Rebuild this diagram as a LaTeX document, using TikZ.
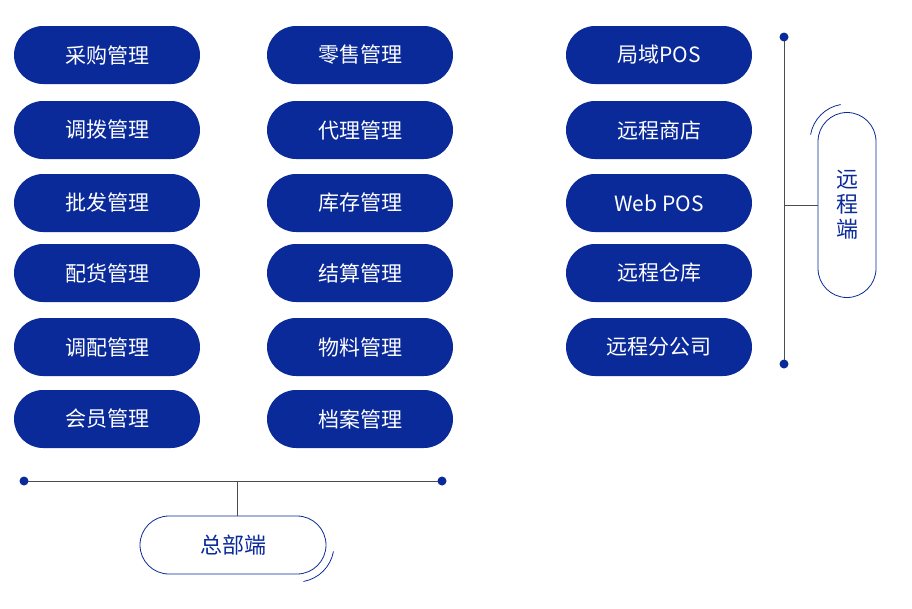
\documentclass[tikz,border=0pt]{standalone}
\usepackage{fontspec}
\setmainfont{Noto Sans CJK SC}
\definecolor{navy}{HTML}{0A2A9A}

\begin{document}
\begin{tikzpicture}[
    x = 1pt, y = -1pt,
    %
    module/.style = {fill = navy, text = white,
      rounded corners = 29pt,
      minimum width = 186pt, minimum height = 58pt,
      font = \fontsize{21}{24}\selectfont},
    %
    side/.style = {draw = navy, thick, text = navy, fill = white,
      rounded corners = 29pt,
      font = \fontsize{22}{25}\selectfont},
    %
    bus/.style = {draw = black!70, thick},
    dot/.style = {circle, fill = navy, inner sep = 0pt, minimum size = 9pt},
    ]

    \useasboundingbox (0, 0) rectangle (912, 608);

    \node at (107, 55) [module, name = caigou] {采购管理};
    \node at (107, 130) [module, name = diaobo] {调拨管理};
    \node at (107, 203) [module, name = pifa] {批发管理};
    \node at (107, 273) [module, name = peihuo] {配货管理};
    \node at (107, 347) [module, name = diaopei] {调配管理};
    \node at (107, 419) [module, name = huiyuan] {会员管理};

    \node at (360, 55) [module, name = lingshou] {零售管理};
    \node at (360, 130) [module, name = daili] {代理管理};
    \node at (360, 203) [module, name = kucun] {库存管理};
    \node at (360, 273) [module, name = jiesuan] {结算管理};
    \node at (360, 347) [module, name = wuliao] {物料管理};
    \node at (360, 419) [module, name = dangan] {档案管理};

    \node at (659, 55) [module, name = jvyu] {局域POS};
    \node at (659, 130) [module, name = yuanshang] {远程商店};
    \node at (659, 203) [module, name = webpos] {Web POS};
    \node at (659, 273) [module, name = yuancang] {远程仓库};
    \node at (659, 347) [module, name = yuanfen] {远程分公司};

    % remote side
    \coordinate (R_top) at (784, 37);
    \coordinate (R_bot) at (784, 364);
    \coordinate (R_mid) at (784, 205);
    \draw [bus] (R_top) -- (R_bot);
    \node at (R_top) [dot] {};
    \node at (R_bot) [dot] {};
    \node at (847, 205) [side, minimum width = 58pt, minimum height = 185pt,
      align = center, name = remote] {远\\程\\端};
    \draw [bus] (R_mid) -- (remote.west);
    \draw [navy, thick] (847, 141) ++(-100: 37) arc [start angle = -100, end angle = -170, radius = 37];

    % head office side
    \coordinate (H_left) at (24, 481);
    \coordinate (H_right) at (442, 481);
    \coordinate (H_mid) at (237, 481);
    \draw [bus] (H_left) -- (H_right);
    \node at (H_left) [dot] {};
    \node at (H_right) [dot] {};
    \node at (233, 545) [side, minimum width = 186pt, minimum height = 58pt,
      name = head] {总部端};
    \draw [bus] (H_mid) -- (head.north -| H_mid);
    \draw [navy, thick] (297, 545) ++(10: 37) arc [start angle = 10, end angle = 80, radius = 37];

  \end{tikzpicture}
\end{document}
